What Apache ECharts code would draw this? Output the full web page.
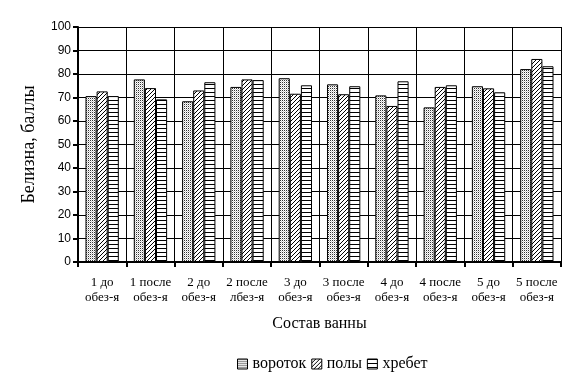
<!DOCTYPE html>
<html>
<head>
<meta charset="utf-8">
<script src="https://cdn.jsdelivr.net/npm/echarts@6/dist/echarts.min.js"></script>
<style>html,body{margin:0;padding:0;background:#fff}#c{width:577px;height:383px}</style>
</head>
<body>
<div id="c"></div>
<script>
var categories = ['1 до\nобез-я','1 после\nобез-я','2 до\nобез-я','2 после\nлбез-я','3 до\nобез-я','3 после\nобез-я','4 до\nобез-я','4 после\nобез-я','5 до\nобез-я','5 после\nобез-я'];
var seriesNames = ['вороток','полы','хребет'];
var vorotok = [70.6, 77.7, 68.4, 74.5, 78.2, 75.6, 70.9, 65.8, 74.8, 82.1];
var poly    = [72.6, 74.0, 73.0, 77.7, 71.6, 71.4, 66.4, 74.5, 73.9, 86.4];
var hrebet  = [70.6, 69.2, 76.5, 77.4, 75.2, 74.8, 76.9, 75.2, 72.2, 83.3];
var yTicks = [0,10,20,30,40,50,60,70,80,90,100];

function makePattern(w, h, draw) {
  var c = document.createElement('canvas');
  c.width = w; c.height = h;
  var ctx = c.getContext('2d');
  ctx.fillStyle = '#fff';
  ctx.fillRect(0, 0, w, h);
  ctx.fillStyle = '#000';
  draw(ctx);
  return {image: c, repeat: 'repeat'};
}
var dots = makePattern(2, 2, function(ctx){ ctx.fillStyle='#333'; ctx.fillRect(0,0,1,1); ctx.fillStyle='#ccc'; ctx.fillRect(1,1,1,1); });
var diag = makePattern(4, 4, function(ctx){ ctx.fillRect(0,3,1,1); ctx.fillRect(1,2,1,1); ctx.fillRect(2,1,1,1); ctx.fillRect(3,0,1,1); });
var horiz = makePattern(1, 4, function(ctx){ ctx.fillRect(0,0,1,1); });
var patterns = [dots, diag, horiz];
var dataSets = [vorotok, poly, hrebet];

var serif = '"Liberation Serif", "DejaVu Serif", serif';
var sans = '"Liberation Sans", Arial, sans-serif';

var chart = echarts.init(document.getElementById('c'), null, {renderer: 'canvas'});
chart.setOption({
  backgroundColor: '#fff',
  animation: false,
  grid: {left: 78, right: 16, top: 27, bottom: 121, containLabel: false},
  legend: {
    top: 351, left: 232,
    itemWidth: 10, itemHeight: 10, itemGap: 5,
    icon: 'rect',
    textStyle: {fontFamily: serif, fontSize: 16, color: '#000'},
    data: seriesNames,
    itemStyle: {borderColor: '#000', borderWidth: 1}
  },
  xAxis: {
    type: 'category',
    data: categories,
    name: 'Состав ванны',
    nameLocation: 'middle',
    nameGap: 54,
    nameTextStyle: {fontFamily: serif, fontSize: 16, color: '#000'},
    axisLine: {lineStyle: {color: '#000', width: 2}},
    axisTick: {show: true, length: 5, lineStyle: {color: '#000', width: 2}},
    axisLabel: {fontFamily: serif, fontSize: 13, color: '#000', lineHeight: 15, margin: 13, interval: 0},
    splitLine: {show: true, lineStyle: {color: '#000', width: 1}}
  },
  yAxis: {
    type: 'value',
    min: 0, max: 100, interval: 10,
    name: 'Белизна, баллы',
    nameLocation: 'middle',
    nameGap: 40,
    nameTextStyle: {fontFamily: serif, fontSize: 18, color: '#000'},
    axisLine: {show: true, lineStyle: {color: '#000', width: 2}},
    axisTick: {show: true, length: 5, lineStyle: {color: '#000', width: 2}},
    axisLabel: {fontFamily: sans, fontSize: 12, color: '#000', margin: 7,
      formatter: function(v){ return yTicks.indexOf(v) >= 0 ? String(v) : ''; }},
    splitLine: {show: true, lineStyle: {color: '#000', width: 1}}
  },
  series: seriesNames.map(function(n, i){
    return {
      name: n,
      type: 'bar',
      data: dataSets[i],
      barGap: '0%',
      barCategoryGap: '31%',
      itemStyle: {color: patterns[i], borderColor: '#000', borderWidth: 1}
    };
  }).concat([{
    type: 'line', data: [], markLine: {
      silent: true, symbol: 'none', label: {show: false},
      lineStyle: {color: '#000', width: 1, type: 'solid'},
      data: [[{x: 561, y: 27}, {x: 561, y: 262}]]
    }
  }])
});
</script>
</body>
</html>
